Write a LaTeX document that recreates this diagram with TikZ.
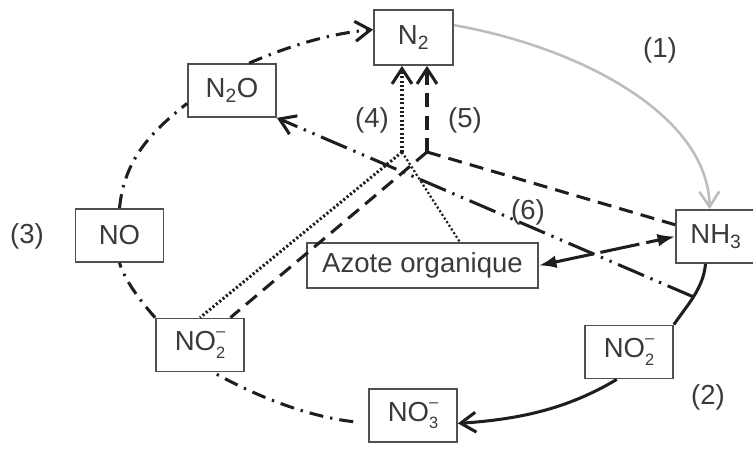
\documentclass[tikz,border=0pt]{standalone}
\usepackage{fontspec}
\setmainfont{Liberation Sans}
\usetikzlibrary{arrows.meta}

\definecolor{ink}{HTML}{1E1E1E}
\definecolor{boxline}{HTML}{505050}
\definecolor{txt}{HTML}{3A3A3A}
\definecolor{fixgray}{HTML}{BDBDBD}
\newcommand{\ionsub}[1]{%
  \rlap{\raisebox{0.5em}{\fontsize{14}{14}\selectfont --}}%
  \raisebox{-0.28em}{\fontsize{14}{14}\selectfont #1}}

\tikzset{
  species/.style={draw=boxline, line width=1.5pt, text=txt, inner sep=0pt,
    minimum width=2.64cm, minimum height=1.59cm},
  stage/.style={text=txt},
  openhead/.style={-{Straight Barb[length=13pt,width=17pt]}},
  fixation/.style={draw=fixgray, line width=2.2pt},
  nitrif/.style={ink, line width=2.6pt},
  denit/.style={ink, line width=2.6pt, dash pattern=on 12pt off 6pt on 2pt off 6pt},
  nitden/.style={ink, line width=2.6pt,
    dash pattern=on 24pt off 6pt on 2pt off 6pt on 2pt off 6pt},
  anammox/.style={ink, line width=2.6pt, dash pattern=on 12pt off 7pt},
  dotline/.style={ink, line width=2.6pt, dash pattern=on 1.8pt off 1.9pt},
  assim/.style={ink, line width=2.6pt, dash pattern=on 34pt off 6pt,
    {Latex[length=15pt,width=11pt]}-{Latex[length=15pt,width=11pt]}}
}

\begin{document}
\begin{tikzpicture}[x=0.03cm, y=-0.03cm, font=\fontsize{23.5}{27}\selectfont]
  \useasboundingbox (0,0) rectangle (753,450);

  \node[species, minimum width=2.37cm, minimum height=1.65cm] (N2) at (413.5,37.5) {N\textsubscript{2}};
  \node[species] (N2O) at (232,90.5) {N\textsubscript{2}O};
  \node[species] (NO) at (119.5,235.5) {NO};
  \node[species] (NO2l) at (200,345) {NO\ionsub{2}};
  \node[species] (NO3) at (413,415.5) {NO\ionsub{3}};
  \node[species] (NO2r) at (629,352) {NO\ionsub{2}};
  \node[species, minimum width=2.4cm] (NH3) at (716,236.5) {NH\textsubscript{3}};
  \node[species, minimum width=6.93cm, minimum height=1.35cm] (Norg) at (422.5,265.5) {Azote organique};

  \node[stage] (s1) at (660,50) {(1)};
  \node[stage] (s2) at (708,397) {(2)};
  \node[stage] (s3) at (27,236) {(3)};
  \node[stage] (s4) at (372,120) {(4)};
  \node[stage] (s5) at (465,120) {(5)};
  \node[stage] (s6) at (528,212) {(6)};

  \coordinate (J4) at (402,152);
  \coordinate (J5) at (427,152);

  \draw[fixation, openhead] (N2.17) .. controls +(125,22) and +(-2,-95) .. (NH3.103);

  \draw[nitrif] (NH3.-111) .. controls +(-2,25) and +(12,-18) .. (NO2r.north east)
    coordinate[pos=0.5] (T);
  \draw[nitrif, openhead] (NO2r.-114) .. controls +(-50,30) and +(60,-4) .. (NO3.-10);

  \draw[denit, shorten <=0.45cm] (NO3.190) .. controls +(-60,-7) and +(45,25) .. (NO2l.-64);
  \draw[denit] (NO2l.north west) .. controls +(-15,-17) and +(5,17) .. (NO.south);
  \draw[denit] (NO.north) .. controls +(5,-50) and +(-35,28) .. (N2O.196);
  \draw[denit, openhead] (N2O.58) .. controls +(40,-17) and +(-45,4) .. (N2.169);

  \draw[nitden, openhead] (T) -- (N2O.south east);

  \draw[anammox] (J5) -- (NO2l.42);
  \draw[anammox] (J5) -- (NH3.164);
  \draw[anammox, openhead] (J5) -- (J5 |- N2.south);

  \draw[dotline] (J4) -- (NO2l.north);
  \draw[dotline, line width=1.9pt] (J4) -- (Norg.32);
  \draw[dotline, openhead] (J4) -- (J4 |- N2.south);

  \draw[assim] (Norg.east) -- (NH3.west);
\end{tikzpicture}
\end{document}
